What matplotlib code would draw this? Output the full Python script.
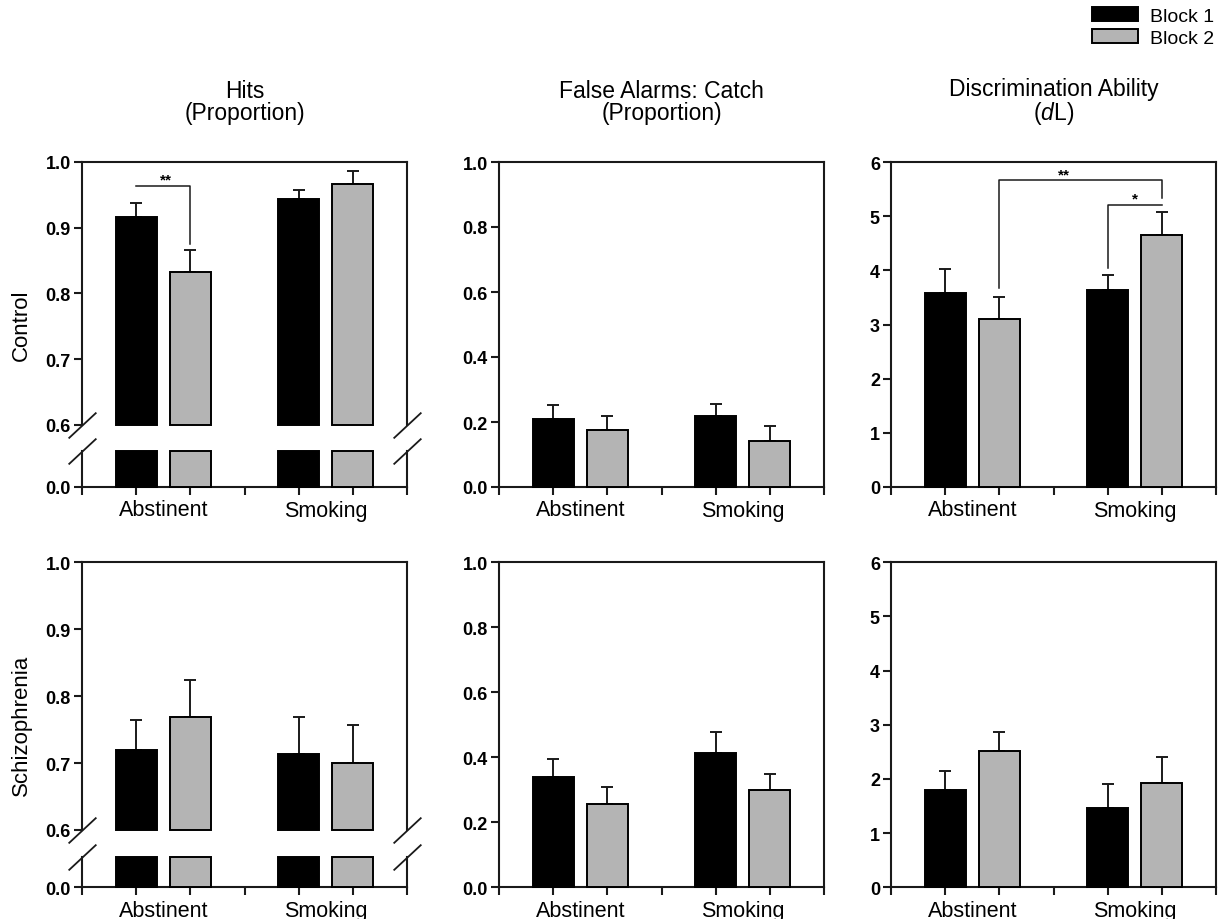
import numpy as np
import matplotlib
matplotlib.use("Agg")
import matplotlib.pyplot as plt
from matplotlib.patches import Patch

plt.rcParams['font.family'] = ['Liberation Sans', 'DejaVu Sans']
plt.rcParams['mathtext.fontset'] = 'custom'
plt.rcParams['mathtext.rm'] = 'Liberation Sans'
plt.rcParams['mathtext.it'] = 'Liberation Sans:italic'

# ---------------- data ----------------
categories = ['Abstinent', 'Smoking']
series_names = ['Block 1', 'Block 2']
row_names = ['Control', 'Schizophrenia']
col_titles = ['Hits\n(Proportion)', 'False Alarms: Catch\n(Proportion)',
              'Discrimination Ability\n($\\mathit{d}$L)']

hits_control_b1 = [0.917, 0.943]
hits_control_b1_sem = [0.021, 0.014]
hits_control_b2 = [0.833, 0.966]
hits_control_b2_sem = [0.033, 0.020]
hits_scz_b1 = [0.720, 0.714]
hits_scz_b1_sem = [0.044, 0.055]
hits_scz_b2 = [0.769, 0.700]
hits_scz_b2_sem = [0.055, 0.057]

fa_control_b1 = [0.209, 0.220]
fa_control_b1_sem = [0.043, 0.035]
fa_control_b2 = [0.175, 0.143]
fa_control_b2_sem = [0.044, 0.045]
fa_scz_b1 = [0.339, 0.414]
fa_scz_b1_sem = [0.057, 0.064]
fa_scz_b2 = [0.255, 0.299]
fa_scz_b2_sem = [0.053, 0.049]

dl_control_b1 = [3.59, 3.64]
dl_control_b1_sem = [0.43, 0.27]
dl_control_b2 = [3.11, 4.65]
dl_control_b2_sem = [0.39, 0.42]
dl_scz_b1 = [1.79, 1.46]
dl_scz_b1_sem = [0.35, 0.44]
dl_scz_b2 = [2.51, 1.93]
dl_scz_b2_sem = [0.36, 0.47]

hits_ticks = [0.6, 0.7, 0.8, 0.9, 1.0]
fa_ticks = [0.0, 0.2, 0.4, 0.6, 0.8, 1.0]
dl_ticks = [0, 1, 2, 3, 4, 5, 6]

# ---------------- styling ----------------
W, H = 1218, 920
DPI = 100
BLACK = '#000000'
GRAY = '#b4b4b4'
SPINE = '#1a1a1a'
colors = [BLACK, GRAY]
group_centers = np.array([1.5, 4.5])
offsets = [-0.5, 0.5]
bar_w = 0.76
XLIM = (0, 6)
tick_fs = 13
xlab_fs = 15.5
title_fs = 16.5
row_fs = 16

fig = plt.figure(figsize=(W / DPI, H / DPI), dpi=DPI)


def pos(l, t, r, b):
    return [l / W, 1 - b / H, (r - l) / W, (b - t) / H]


def style(ax, show_top=True, show_bottom=True):
    for s in ['left', 'right', 'top', 'bottom']:
        ax.spines[s].set_linewidth(1.5)
        ax.spines[s].set_color(SPINE)
    ax.spines['top'].set_visible(show_top)
    ax.spines['bottom'].set_visible(show_bottom)
    ax.set_xlim(*XLIM)
    ax.tick_params(axis='y', direction='out', length=6, width=1.5, color=SPINE,
                   labelsize=tick_fs, pad=2)
    for lab in ax.get_yticklabels():
        lab.set_fontweight('bold')
    if show_bottom:
        ax.set_xticks(np.arange(0, 7), minor=True)
        ax.set_xticks(group_centers)
        ax.set_xticklabels(categories, fontsize=xlab_fs)
        ax.tick_params(axis='x', which='major', length=0, pad=9)
        ax.tick_params(axis='x', which='minor', direction='out', length=6,
                       width=1.5, color=SPINE)
    else:
        ax.set_xticks([])
        ax.tick_params(axis='x', which='both', bottom=False, labelbottom=False)


def draw_bars(ax, means, sems, bottom=0.0, err=True, clamp=None):
    for k, (m, s) in enumerate(zip(means, sems)):
        m = np.asarray(m, dtype=float)
        x = group_centers + offsets[k]
        h = m if clamp is None else np.minimum(m, clamp)
        ax.bar(x, h - bottom, bottom=bottom, width=bar_w, color=colors[k],
               edgecolor=BLACK, linewidth=1.4, clip_on=False, zorder=3)
        if err:
            ax.errorbar(x, m, yerr=[np.zeros_like(m), np.asarray(s)], fmt='none',
                        ecolor=SPINE, elinewidth=1.4, capsize=4.5, capthick=1.4,
                        zorder=2, clip_on=False)


def slash(ax, xa, ya):
    ax.plot([xa], [ya], transform=ax.transAxes, marker=[(-1, -0.93), (1, 0.93)],
            markersize=20, linestyle='none', color=SPINE, mec=SPINE, mew=1.3,
            clip_on=False, zorder=5)


col_left = [82, 499, 891]
col_w = 325
rows = [dict(top=163, bottom=488, brk_top=425.7, brk_bot=452.3),
        dict(top=563.3, bottom=888.3, brk_top=831, brk_bot=858.3)]

hits = [([hits_control_b1, hits_control_b2], [hits_control_b1_sem, hits_control_b2_sem]),
        ([hits_scz_b1, hits_scz_b2], [hits_scz_b1_sem, hits_scz_b2_sem])]
fa = [([fa_control_b1, fa_control_b2], [fa_control_b1_sem, fa_control_b2_sem]),
      ([fa_scz_b1, fa_scz_b2], [fa_scz_b1_sem, fa_scz_b2_sem])]
dl = [([dl_control_b1, dl_control_b2], [dl_control_b1_sem, dl_control_b2_sem]),
      ([dl_scz_b1, dl_scz_b2], [dl_scz_b1_sem, dl_scz_b2_sem])]

axes_top = {}
for r, rr in enumerate(rows):
    # ---- Hits: broken axis ----
    l = col_left[0]
    axu = fig.add_axes(pos(l, rr['top'], l + col_w, rr['brk_top']))
    axl = fig.add_axes(pos(l, rr['brk_bot'], l + col_w, rr['bottom']))
    axu.set_ylim(0.6, 1.0)
    axu.set_yticks(hits_ticks)
    axu.set_yticklabels([f'{t:.1f}' for t in hits_ticks])
    style(axu, show_top=True, show_bottom=False)
    low_top = 0.05
    axl.set_ylim(0.0, low_top)
    axl.set_yticks([0.0])
    axl.set_yticklabels(['0.0'])
    style(axl, show_top=False, show_bottom=True)
    means, sems = hits[r]
    draw_bars(axu, means, sems, bottom=0.6)
    draw_bars(axl, means, sems, bottom=0.0, err=False, clamp=low_top)
    for xa in (0, 1):
        slash(axu, xa, 0)
        slash(axl, xa, 1)
    axes_top[(r, 0)] = axu
    fig.text(21 / W, 1 - (rr['top'] + rr['bottom']) / 2 / H, row_names[r],
             rotation=90, ha='center', va='center', fontsize=row_fs)

    # ---- False alarms ----
    l = col_left[1]
    ax = fig.add_axes(pos(l, rr['top'], l + col_w, rr['bottom']))
    ax.set_ylim(0, 1.0)
    ax.set_yticks(fa_ticks)
    ax.set_yticklabels([f'{t:.1f}' for t in fa_ticks])
    style(ax)
    means, sems = fa[r]
    draw_bars(ax, means, sems)
    axes_top[(r, 1)] = ax

    # ---- Discrimination ----
    l = col_left[2]
    ax = fig.add_axes(pos(l, rr['top'], l + col_w, rr['bottom']))
    ax.set_ylim(0, 6)
    ax.set_yticks(dl_ticks)
    ax.set_yticklabels([str(t) for t in dl_ticks])
    style(ax)
    means, sems = dl[r]
    draw_bars(ax, means, sems)
    axes_top[(r, 2)] = ax

# column titles
for c in range(3):
    axes_top[(0, c)].set_title(col_titles[c], fontsize=title_fs, pad=31,
                               linespacing=0.95)

# significance brackets
bk = dict(color=SPINE, lw=1.1, clip_on=False, zorder=4)
ax = axes_top[(0, 0)]
ax.plot([1, 2, 2], [0.963, 0.963, 0.875], **bk)
ax.text(1.55, 0.962, '**', ha='center', va='bottom', fontsize=11, fontweight='bold')

ax = axes_top[(0, 2)]
ax.plot([2, 2, 5, 5], [3.67, 5.666, 5.666, 5.333], **bk)
ax.text(3.2, 5.64, '**', ha='center', va='bottom', fontsize=11, fontweight='bold')
ax.plot([4, 4, 5], [4.04, 5.197, 5.197], **bk)
ax.text(4.5, 5.2, '*', ha='center', va='bottom', fontsize=11, fontweight='bold')

# legend
handles = [Patch(facecolor=colors[k], edgecolor=BLACK, linewidth=1.4, label=series_names[k])
           for k in range(2)]
fig.legend(handles=handles, loc='upper right', bbox_to_anchor=(1214 / W, 1 - 8 / H),
           frameon=False, fontsize=14, handlelength=2.4, handleheight=0.75,
           handletextpad=0.6, labelspacing=0.2, borderpad=0, borderaxespad=0)

fig.savefig('out.png', dpi=DPI)
